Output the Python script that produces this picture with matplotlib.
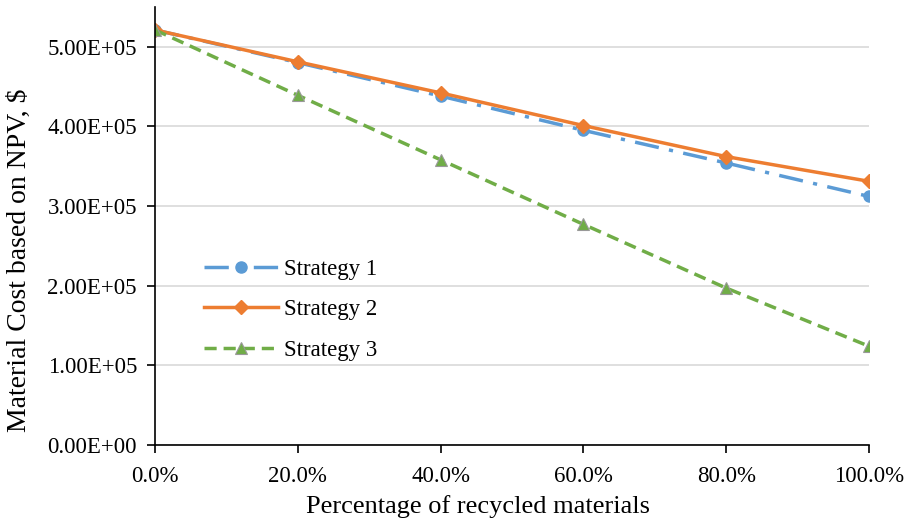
import matplotlib.pyplot as plt
from matplotlib.ticker import FuncFormatter, MultipleLocator

plt.rcParams['font.family'] = ['Liberation Serif', 'DejaVu Serif']

# data
recycled = [0.0, 0.2, 0.4, 0.6, 0.8, 1.0]
strategy1 = [5.21e5, 4.80e5, 4.38e5, 3.95e5, 3.54e5, 3.12e5]
strategy2 = [5.21e5, 4.81e5, 4.42e5, 4.01e5, 3.62e5, 3.31e5]
strategy3 = [5.21e5, 4.39e5, 3.58e5, 2.77e5, 1.97e5, 1.24e5]

fig = plt.figure(figsize=(9.09, 5.26), dpi=100)
ax = fig.add_axes([0.1705, 0.154, 0.7855, 0.833])

ax.plot(recycled, strategy1, color='#5B9BD5', lw=2.5, dashes=(7, 3, 1.2, 3),
        marker='o', ms=8, label='Strategy 1')
ax.plot(recycled, strategy2, color='#ED7D31', lw=2.5, linestyle='-',
        marker='D', ms=7, label='Strategy 2')
ax.plot(recycled, strategy3, color='#70AD47', lw=2.5, dashes=(3.5, 2),
        marker='^', ms=9, mec='#999999', mew=0.8, label='Strategy 3')

ax.set_xlim(0, 1)
ax.set_ylim(0, 5.5e5)
ax.xaxis.set_major_locator(MultipleLocator(0.2))
ax.yaxis.set_major_locator(MultipleLocator(1e5))
ax.xaxis.set_major_formatter(FuncFormatter(lambda v, p: f'{v*100:.1f}%'))
ax.yaxis.set_major_formatter(FuncFormatter(lambda v, p: f'{v:.2E}'))
ax.grid(axis='y', color='#D9D9D9', lw=1.2)
ax.set_axisbelow(True)

for s in ['top', 'right']:
    ax.spines[s].set_visible(False)
for s in ['left', 'bottom']:
    ax.spines[s].set_color('black')
    ax.spines[s].set_linewidth(1.2)
ax.tick_params(axis='both', direction='out', length=6, width=1.2, labelsize=16.5)
ax.tick_params(axis='x', pad=9)
ax.tick_params(axis='y', pad=7)

ax.set_xlabel('Percentage of recycled materials', fontsize=19)
ax.set_ylabel('Material Cost based on NPV, $', fontsize=20)
ax.xaxis.set_label_coords(0.452, -0.114)
ax.yaxis.set_label_coords(-0.172, 0.422)

ax.legend(loc='center left', bbox_to_anchor=(0.04, 0.309), frameon=False,
          fontsize=16.5, handlelength=3.2, labelspacing=0.85, handletextpad=0.3)

plt.savefig('out.png', dpi=100)
